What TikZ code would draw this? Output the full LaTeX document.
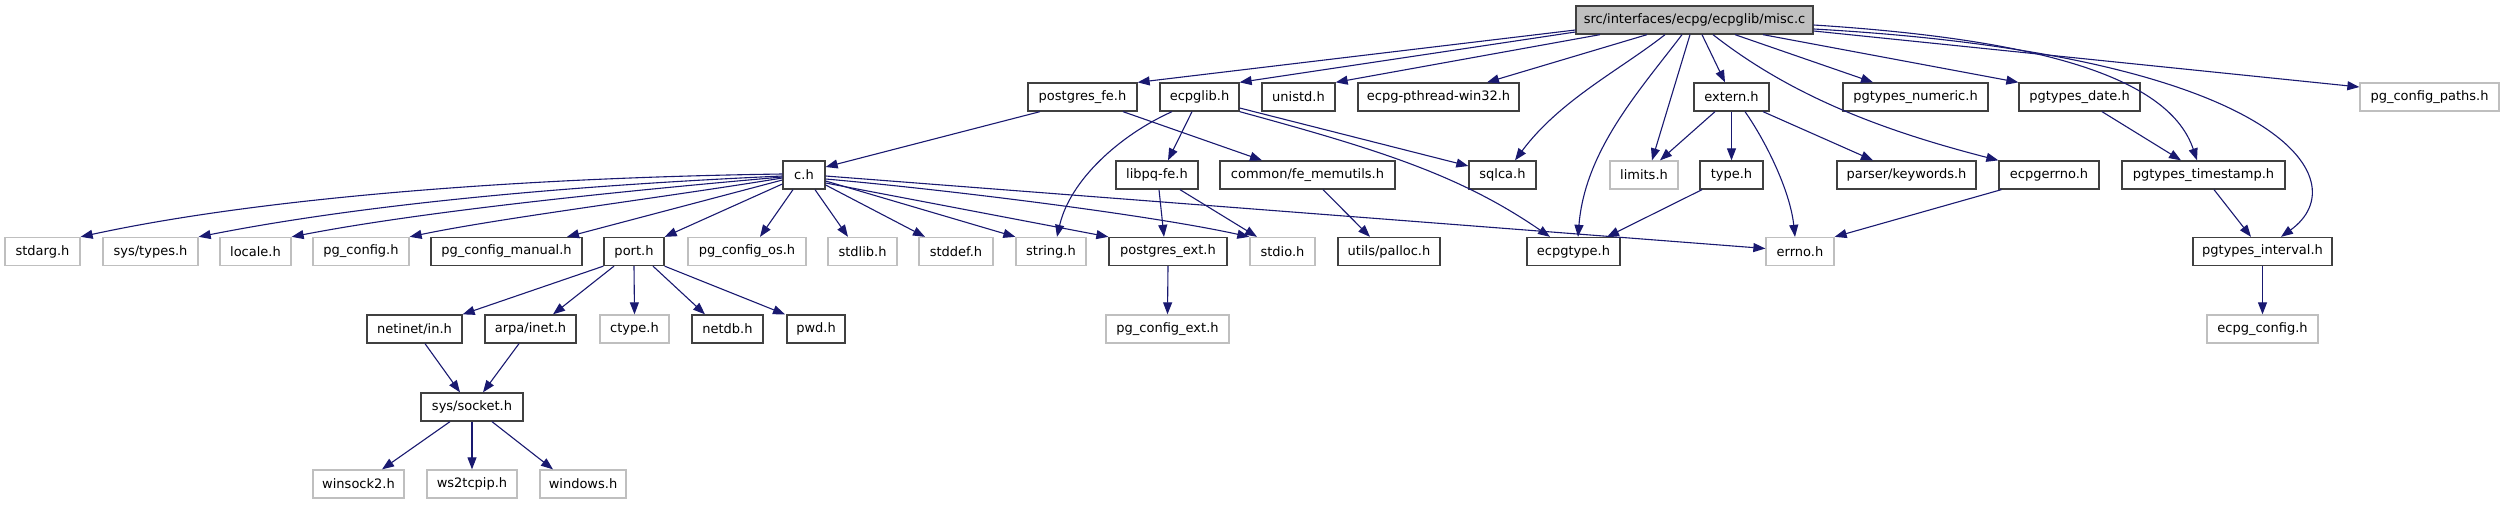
\documentclass[tikz,border=0pt]{standalone}
\usepackage{fontspec}
\setmainfont{DejaVu Sans}
\usetikzlibrary{arrows.meta}
\definecolor{edgecol}{HTML}{191970}
\definecolor{darkbd}{HTML}{404040}
\definecolor{lightbd}{HTML}{BFBFBF}
\tikzset{
  box/.style={draw=darkbd, line width=1.3pt, fill=white, minimum height=28pt, inner sep=0pt, anchor=center, font=\fontsize{13}{15}\selectfont},
  gbox/.style={box, draw=lightbd},
  mainbox/.style={box, fill=lightbd},
  edge/.style={draw=edgecol, line width=1.1pt, -{Triangle[length=12pt,width=9pt]}},
}
\begin{document}
\begin{tikzpicture}[x=1pt,y=-1pt]
\useasboundingbox (0,0) rectangle (2504,504);
% row 0
\node[mainbox, minimum width=237pt] (misc) at (1694.5,20) {src/interfaces/ecpg/ecpglib/misc.c};
% row 1
\node[box, minimum width=109pt] (pgfe) at (1082.5,97) {postgres\_fe.h};
\node[box, minimum width=79pt] (ecpglib) at (1199.5,97) {ecpglib.h};
\node[box, minimum width=73pt] (unistd) at (1298.5,97) {unistd.h};
\node[box, minimum width=161pt] (pthread) at (1438.5,97) {ecpg-pthread-win32.h};
\node[box, minimum width=75pt] (extern) at (1731.5,97) {extern.h};
\node[box, minimum width=145pt] (numeric) at (1915.5,97) {pgtypes\_numeric.h};
\node[box, minimum width=121pt] (date) at (2079.5,97) {pgtypes\_date.h};
\node[gbox, minimum width=139pt] (paths) at (2429.5,97) {pg\_config\_paths.h};
% row 2
\node[box, minimum width=42pt] (ch) at (804,175) {c.h};
\node[box, minimum width=82pt] (libpq) at (1157,175) {libpq-fe.h};
\node[box, minimum width=175pt] (memutils) at (1307.5,175) {common/fe\_memutils.h};
\node[box, minimum width=67pt] (sqlca) at (1502.5,175) {sqlca.h};
\node[gbox, minimum width=68pt] (limits) at (1644,175) {limits.h};
\node[box, minimum width=63pt] (type) at (1731.5,175) {type.h};
\node[box, minimum width=139pt] (keywords) at (1906.5,175) {parser/keywords.h};
\node[box, minimum width=100pt] (ecpgerrno) at (2049,175) {ecpgerrno.h};
\node[box, minimum width=163pt] (timestamp) at (2203.5,175) {pgtypes\_timestamp.h};
% row 3
\node[gbox, minimum width=75pt] (stdarg) at (42.5,251.5) {stdarg.h};
\node[gbox, minimum width=95pt] (systypes) at (150.5,251.5) {sys/types.h};
\node[gbox, minimum width=71pt] (locale) at (255.5,251.5) {locale.h};
\node[gbox, minimum width=96pt] (pgconfig) at (361,251.5) {pg\_config.h};
\node[box, minimum width=151pt] (manual) at (506.5,251.5) {pg\_config\_manual.h};
\node[box, minimum width=60pt] (port) at (634,251.5) {port.h};
\node[gbox, minimum width=118pt] (configos) at (747,251.5) {pg\_config\_os.h};
\node[gbox, minimum width=69pt] (stdlib) at (862.5,251.5) {stdlib.h};
\node[gbox, minimum width=74pt] (stddef) at (956,251.5) {stddef.h};
\node[gbox, minimum width=70pt] (string) at (1051,251.5) {string.h};
\node[box, minimum width=118pt] (pgext) at (1168,251.5) {postgres\_ext.h};
\node[gbox, minimum width=65pt] (stdio) at (1282.5,251.5) {stdio.h};
\node[box, minimum width=102pt] (palloc) at (1389,251.5) {utils/palloc.h};
\node[box, minimum width=93pt] (ecpgtype) at (1573.5,251.5) {ecpgtype.h};
\node[gbox, minimum width=68pt] (errno) at (1800,251.5) {errno.h};
\node[box, minimum width=139pt] (interval) at (2262.5,251.5) {pgtypes\_interval.h};
% row 4
\node[box, minimum width=95pt] (netinet) at (414.5,329) {netinet/in.h};
\node[box, minimum width=91pt] (arpa) at (530.5,329) {arpa/inet.h};
\node[gbox, minimum width=69pt] (ctype) at (634.5,329) {ctype.h};
\node[box, minimum width=71pt] (netdb) at (727.5,329) {netdb.h};
\node[box, minimum width=58pt] (pwd) at (816,329) {pwd.h};
\node[gbox, minimum width=123pt] (pgconfigext) at (1167.5,329) {pg\_config\_ext.h};
\node[gbox, minimum width=111pt] (ecpgconfig) at (2262.5,329) {ecpg\_config.h};
% row 5
\node[box, minimum width=102pt] (socket) at (472,407) {sys/socket.h};
% row 6
\node[gbox, minimum width=91pt] (winsock) at (358.5,484) {winsock2.h};
\node[gbox, minimum width=90pt] (ws2) at (472,484) {ws2tcpip.h};
\node[gbox, minimum width=86pt] (windows) at (583,484) {windows.h};

% edges from misc.c
\draw[edge] ([yshift=-10pt]misc.west) -- (pgfe.north east);
\draw[edge] ([yshift=-12pt]misc.west) -- (ecpglib.north east);
\draw[edge] ([xshift=-94.5pt]misc.south) -- (unistd.north east);
\draw[edge] ([xshift=-47.5pt]misc.south) -- ([xshift=48.5pt]pthread.north);
\draw[edge] ([xshift=-29.5pt]misc.south) .. controls (1620,70) and (1560,100) .. ([xshift=12.5pt]sqlca.north);
\draw[edge] ([xshift=-12.5pt]misc.south) .. controls (1640,90) and (1585,150) .. ([xshift=4.5pt]ecpgtype.north);
\draw[edge] ([xshift=-4.5pt]misc.south) -- ([xshift=8pt]limits.north);
\draw[edge] ([xshift=7.5pt]misc.south) -- ([xshift=-6.5pt]extern.north);
\draw[edge] ([xshift=18.5pt]misc.south) .. controls (1790,95) and (1880,130) .. (ecpgerrno.north west);
\draw[edge] ([xshift=40.5pt]misc.south) -- ([xshift=-42.5pt]numeric.north);
\draw[edge] ([xshift=68.5pt]misc.south) -- (date.north west);
\draw[edge] ([yshift=-5pt]misc.east) .. controls (2050,40) and (2170,80) .. ([xshift=-6.5pt]timestamp.north);
\draw[edge] ([yshift=-9pt]misc.east) .. controls (2280,55) and (2360,180) .. ([xshift=18.5pt]interval.north);
\draw[edge] ([yshift=-11pt]misc.east) -- ([yshift=10pt]paths.west);
% postgres_fe.h
\draw[edge] ([xshift=-42.5pt]pgfe.south) -- ([yshift=8pt]ch.east);
\draw[edge] ([xshift=40.5pt]pgfe.south) -- ([xshift=-45.5pt]memutils.north);
% ecpglib.h
\draw[edge] ([xshift=-27.5pt]ecpglib.south) .. controls (1120,135) and (1070,180) .. ([xshift=6pt]string.north);
\draw[edge] ([xshift=-7.5pt]ecpglib.south) -- ([xshift=11pt]libpq.north);
\draw[edge] ([yshift=-11pt]ecpglib.east) -- ([yshift=9pt]sqlca.west);
\draw[edge] (ecpglib.south east) .. controls (1380,150) and (1460,175) .. ([xshift=-23.5pt]ecpgtype.north);
% extern.h
\draw[edge] ([xshift=-16.5pt]extern.south) -- ([xshift=16pt]limits.north);
\draw[edge] (extern.south) -- (type.north);
\draw[edge] ([xshift=31.5pt]extern.south) -- ([xshift=-33.5pt]keywords.north);
\draw[edge] ([xshift=13.5pt]extern.south) .. controls (1765,140) and (1790,190) .. ([xshift=-5pt]errno.north);
% others row 1/2
\draw[edge] ([xshift=22.5pt]date.south) -- ([xshift=-22.5pt]timestamp.north);
\draw[edge] ([xshift=10.5pt]timestamp.south) -- ([xshift=-11.5pt]interval.north);
\draw[edge] ([xshift=3pt]ecpgerrno.south west) -- (errno.north east);
\draw[edge] ([xshift=-29.5pt]type.south) -- ([xshift=33.5pt]ecpgtype.north);
\draw[edge] (interval.south) -- (ecpgconfig.north);
\draw[edge] (pgext.south) -- (pgconfigext.north);
% c.h
\draw[edge] ([yshift=1pt]ch.west) .. controls (500,178) and (250,200) .. (stdarg.north east);
\draw[edge] ([yshift=-1pt]ch.west) .. controls (560,186) and (360,205) .. (systypes.north east);
\draw[edge] ([yshift=-2pt]ch.west) .. controls (610,192) and (420,212) .. (locale.north east);
\draw[edge] ([yshift=-3pt]ch.west) .. controls (660,198) and (500,218) .. (pgconfig.north east);
\draw[edge] ([yshift=-5pt]ch.west) -- ([xshift=60.5pt]manual.north);
\draw[edge] ([yshift=-9pt]ch.west) -- (port.north east);
\draw[edge] ([xshift=-11pt]ch.south) -- ([xshift=13pt]configos.north);
\draw[edge] ([xshift=11pt]ch.south) -- ([xshift=-14.5pt]stdlib.north);
\draw[edge] ([yshift=-10pt]ch.east) -- ([xshift=-31pt]stddef.north);
\draw[edge] ([yshift=-6pt]ch.east) -- (string.north west);
\draw[edge] ([yshift=-8pt]ch.east) -- (pgext.north west);
\draw[edge] ([yshift=-4pt]ch.east) .. controls (950,190) and (1150,215) .. (stdio.north west);
\draw[edge] ([yshift=-1pt]ch.east) -- ([yshift=3pt]errno.west);
% libpq / memutils
\draw[edge] ([xshift=2pt]libpq.south) -- ([xshift=-4pt]pgext.north);
\draw[edge] ([xshift=23pt]libpq.south) -- ([xshift=-25.5pt]stdio.north);
\draw[edge] ([xshift=15.5pt]memutils.south) -- ([xshift=-19pt]palloc.north);
% port.h
\draw[edge] (port.south west) -- (netinet.north east);
\draw[edge] ([xshift=-20pt]port.south) -- ([xshift=22.5pt]arpa.north);
\draw[edge] (port.south) -- (ctype.north);
\draw[edge] ([xshift=19pt]port.south) -- ([xshift=-22.5pt]netdb.north);
\draw[edge] (port.south east) -- ([xshift=-31pt]pwd.north);
% socket
\draw[edge] ([xshift=10.5pt]netinet.south) -- ([xshift=-12pt]socket.north);
\draw[edge] ([xshift=-11.5pt]arpa.south) -- ([xshift=11pt]socket.north);
\draw[edge] ([xshift=-22pt]socket.south) -- ([xshift=23.5pt]winsock.north);
\draw[edge] (socket.south) -- (ws2.north);
\draw[edge] ([xshift=20pt]socket.south) -- ([xshift=-30pt]windows.north);
\end{tikzpicture}
\end{document}
